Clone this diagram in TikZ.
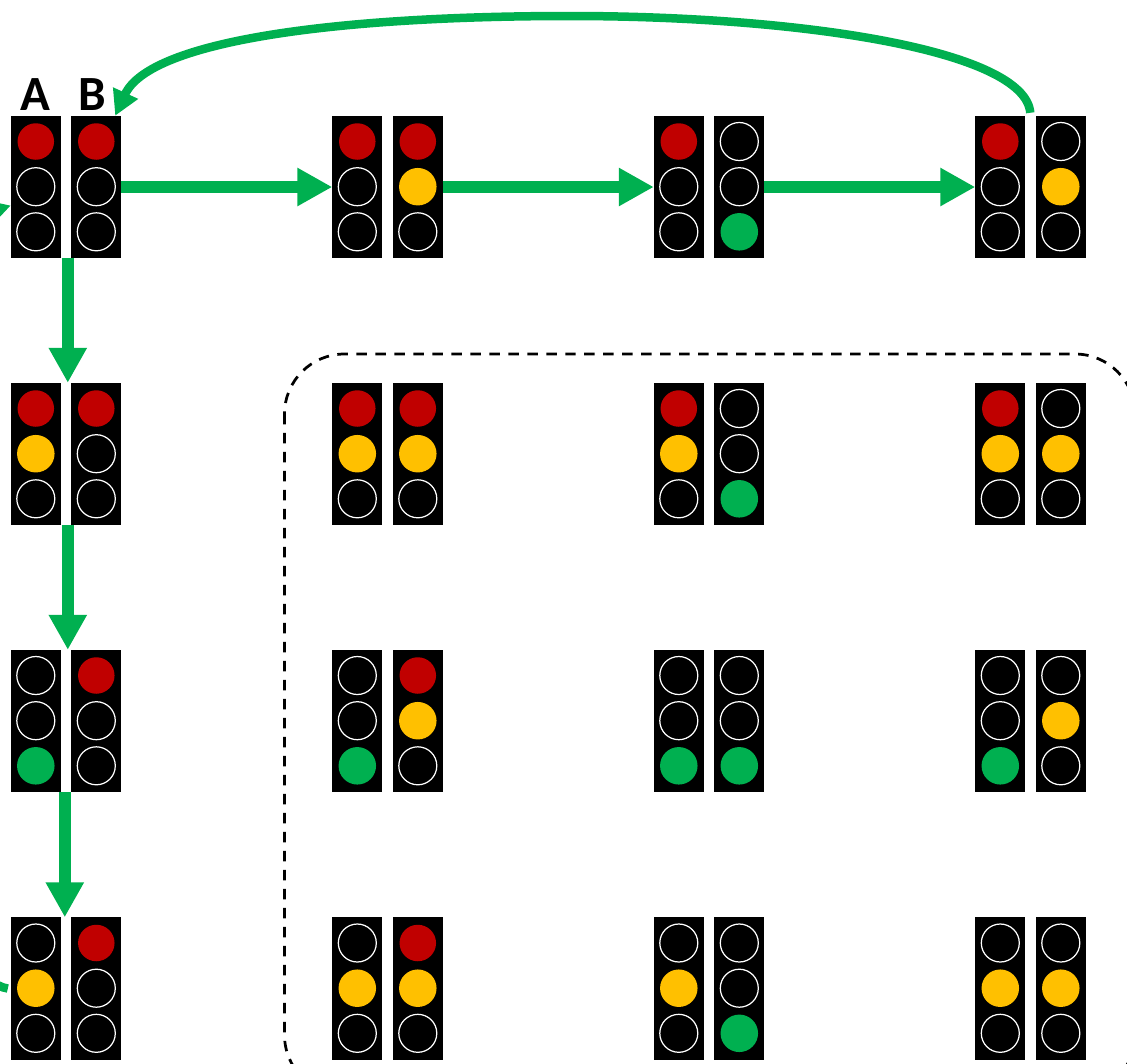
\documentclass[tikz,border=0pt]{standalone}
\usepackage{fontspec}
\setmainfont{Carlito}
\usetikzlibrary{arrows.meta,calc}
\definecolor{lampred}{HTML}{C00000}
\definecolor{lampamber}{HTML}{FFC000}
\definecolor{flowgreen}{HTML}{00B050}
\tikzset{
	housing/.style={fill=black, inner sep=0, outer sep=0, minimum width=1cm, minimum height=2.85cm},
	lampr/.style={circle, fill=lampred, inner sep=0, minimum size=0.73cm},
	lampy/.style={circle, fill=lampamber, inner sep=0, minimum size=0.75cm},
	lampg/.style={circle, fill=flowgreen, inner sep=0, minimum size=0.75cm},
	lampo/.style={circle, draw=white, line width=0.7pt, inner sep=0, minimum size=0.76cm},
	flow/.style={draw=flowgreen, line width=0.23cm, -{Triangle[length=0.7cm, width=0.72cm]}},
	loopflow/.style={draw=flowgreen, line width=0.17cm, -{Triangle[length=0.5cm, width=0.52cm]}},
	letter/.style={anchor=base, inner sep=0, font=\fontsize{28}{28}\selectfont\bfseries}
}
\def\lightpair(#1)(#2,#3)(#4,#5,#6)(#7,#8,#9){
	\node[housing] (#1a) at ({35.8+#2}, {187+#3}) {};
	\node[housing] (#1b) at ({96.2+#2}, {187+#3}) {};
	\node[#4] (#1a1) at ({35.8+#2}, {141.5+#3}) {};
	\node[#5] (#1a2) at ({35.8+#2}, {186.7+#3}) {};
	\node[#6] (#1a3) at ({35.8+#2}, {231.8+#3}) {};
	\node[#7] (#1b1) at ({96.3+#2}, {141.5+#3}) {};
	\node[#8] (#1b2) at ({96.3+#2}, {186.7+#3}) {};
	\node[#9] (#1b3) at ({96.3+#2}, {231.8+#3}) {};
}
\begin{document}
\begin{tikzpicture}[x=0.02cm, y=-0.02cm]
		%%%%% START %%%%%
		\useasboundingbox (0, 0) rectangle (1127, 1063);
		\clip (0, 0) rectangle (1127, 1063);
		
		\draw[black, line width=0.055cm, dash pattern=on 0.21cm off 0.17cm, rounded corners=1.2cm] (284.5, 354) rectangle (1135, 1095);
		
		\lightpair(s11)(0,0)(lampr,lampo,lampo)(lampr,lampo,lampo)
		\lightpair(s12)(321.5,0)(lampr,lampo,lampo)(lampr,lampy,lampo)
		\lightpair(s13)(643,0)(lampr,lampo,lampo)(lampo,lampo,lampg)
		\lightpair(s14)(964.5,0)(lampr,lampo,lampo)(lampo,lampy,lampo)
		
		\lightpair(s21)(0,267)(lampr,lampy,lampo)(lampr,lampo,lampo)
		\lightpair(s22)(321.5,267)(lampr,lampy,lampo)(lampr,lampy,lampo)
		\lightpair(s23)(643,267)(lampr,lampy,lampo)(lampo,lampo,lampg)
		\lightpair(s24)(964.5,267)(lampr,lampy,lampo)(lampo,lampy,lampo)
		
		\lightpair(s31)(0,534)(lampo,lampo,lampg)(lampr,lampo,lampo)
		\lightpair(s32)(321.5,534)(lampo,lampo,lampg)(lampr,lampy,lampo)
		\lightpair(s33)(643,534)(lampo,lampo,lampg)(lampo,lampo,lampg)
		\lightpair(s34)(964.5,534)(lampo,lampo,lampg)(lampo,lampy,lampo)
		
		\lightpair(s41)(0,801.5)(lampo,lampy,lampo)(lampr,lampo,lampo)
		\lightpair(s42)(321.5,801.5)(lampo,lampy,lampo)(lampr,lampy,lampo)
		\lightpair(s43)(643,801.5)(lampo,lampy,lampo)(lampo,lampo,lampg)
		\lightpair(s44)(964.5,801.5)(lampo,lampy,lampo)(lampo,lampy,lampo)
		
		\node[letter] (laba) at (35.8, 110.5) {A};
		\node[letter] (labb) at (92.5, 110.5) {B};
		
		\draw[flow] (s11b.east) -- (s12a.west);
		\draw[flow] (s12b.east) -- (s13a.west);
		\draw[flow] (s13b.east) -- (s14a.west);
		
		\draw[flow] ([xshift=0.14cm]s11a.south east) -- ([xshift=0.14cm]s21a.north east);
		\draw[flow] ([xshift=0.14cm]s21a.south east) -- ([xshift=0.14cm]s31a.north east);
		\draw[flow] ([xshift=0.08cm]s31a.south east) -- ([xshift=0.08cm]s41a.north east);
		
		\draw[loopflow] ([shift={(5,-3)}]s14a.north east) .. controls (1025, 50) and (800, 16) .. (570, 16) .. controls (340, 16) and (150, 40) .. ([xshift=-0.12cm]s11b.north east);
		\draw[loopflow] ([xshift=-0.06cm]s41a.west) .. controls (-100, 975) and (-100, 240) .. ([yshift=-0.37cm]s11a.west);
		%%%%% END %%%%%
	\end{tikzpicture}
\end{document}
